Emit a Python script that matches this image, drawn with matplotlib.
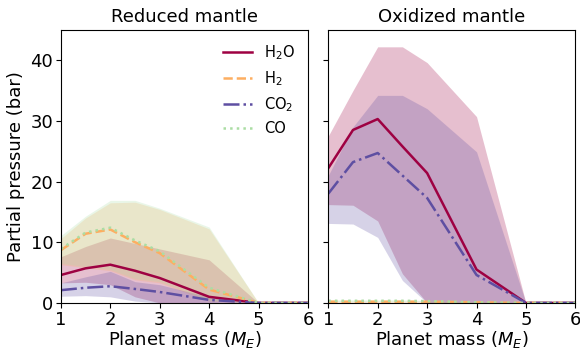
import matplotlib
matplotlib.use("Agg")
import matplotlib.pyplot as plt
import numpy as np

mass = [1, 1.5, 2, 2.5, 3, 4, 5, 6]

# reduced mantle: median, lower and upper bounds (bar)
red_h2o = [4.6, 5.7, 6.3, 5.3, 4.1, 1.0, 0.0, 0.0]
red_h2o_lo = [3.3, 3.4, 3.0, 1.0, 0.0, 0.0, 0.0, 0.0]
red_h2o_hi = [7.6, 9.3, 10.7, 9.8, 8.9, 7.1, 0.0, 0.0]
red_h2 = [8.7, 11.4, 12.1, 10.0, 8.2, 2.2, 0.0, 0.0]
red_h2_lo = [6.3, 5.8, 5.3, 3.8, 3.3, 0.3, 0.0, 0.0]
red_h2_hi = [10.6, 14.0, 16.5, 16.6, 15.4, 12.2, 0.0, 0.0]
red_co2 = [2.1, 2.5, 2.75, 2.3, 1.8, 0.5, 0.0, 0.0]
red_co2_lo = [1.1, 1.2, 1.0, 0.3, 0.0, 0.0, 0.0, 0.0]
red_co2_hi = [3.3, 4.3, 5.2, 3.5, 3.0, 1.0, 0.0, 0.0]
red_co = [8.9, 11.6, 12.4, 10.3, 8.5, 2.5, 0.0, 0.0]
red_co_lo = [6.5, 6.0, 5.5, 4.0, 3.5, 0.4, 0.0, 0.0]
red_co_hi = [11.1, 14.3, 16.9, 16.9, 15.6, 12.5, 0.0, 0.0]

# oxidized mantle
ox_h2o = [22.2, 28.5, 30.3, 25.8, 21.4, 5.5, 0.0, 0.0]
ox_h2o_lo = [16.2, 16.1, 13.5, 4.8, 0.0, 0.0, 0.0, 0.0]
ox_h2o_hi = [27.5, 35.0, 42.2, 42.2, 39.6, 30.7, 0.0, 0.0]
ox_h2 = [0.2, 0.2, 0.2, 0.2, 0.2, 0.1, 0.0, 0.0]
ox_h2_lo = [0.1, 0.1, 0.1, 0.1, 0.1, 0.0, 0.0, 0.0]
ox_h2_hi = [0.3, 0.3, 0.3, 0.3, 0.3, 0.2, 0.0, 0.0]
ox_co2 = [18.0, 23.2, 24.7, 21.0, 17.3, 4.6, 0.0, 0.0]
ox_co2_lo = [13.1, 13.0, 10.8, 3.7, 0.0, 0.0, 0.0, 0.0]
ox_co2_hi = [21.0, 29.0, 34.2, 34.2, 32.0, 24.9, 0.0, 0.0]
ox_co = [0.35, 0.35, 0.35, 0.35, 0.3, 0.1, 0.0, 0.0]
ox_co_lo = [0.2, 0.2, 0.2, 0.2, 0.2, 0.0, 0.0, 0.0]
ox_co_hi = [0.5, 0.5, 0.5, 0.5, 0.4, 0.2, 0.0, 0.0]

species = [r"H$_2$O", r"H$_2$", r"CO$_2$", "CO"]
colors = ["#9e0142", "#fdae61", "#5e4fa2", "#abdda4"]
styles = ["-", "--", "-.", ":"]

reduced = [(red_h2o, red_h2o_lo, red_h2o_hi), (red_h2, red_h2_lo, red_h2_hi),
           (red_co2, red_co2_lo, red_co2_hi), (red_co, red_co_lo, red_co_hi)]
oxidized = [(ox_h2o, ox_h2o_lo, ox_h2o_hi), (ox_h2, ox_h2_lo, ox_h2_hi),
            (ox_co2, ox_co2_lo, ox_co2_hi), (ox_co, ox_co_lo, ox_co_hi)]

fig = plt.figure(figsize=(5.8, 3.51), dpi=100)
ax1 = fig.add_axes([0.105, 0.137, 0.426, 0.778])
ax2 = fig.add_axes([0.566, 0.137, 0.426, 0.778], sharey=ax1)

for ax, data, title in [(ax1, reduced, "Reduced mantle"), (ax2, oxidized, "Oxidized mantle")]:
    for (med, lo, hi), lab, c, ls in zip(data, species, colors, styles):
        ax.fill_between(mass, lo, hi, color=c, alpha=0.25, lw=0)
        ax.plot(mass, med, color=c, ls=ls, lw=1.8, label=lab)
    ax.set_xlim(1, 6)
    ax.set_ylim(0, 45)
    ax.set_xticks([1, 2, 3, 4, 5, 6])
    ax.set_yticks([0, 10, 20, 30, 40])
    ax.set_title(title, fontsize=13)
    ax.set_xlabel(r"Planet mass ($M_E$)", fontsize=13, labelpad=0)
    ax.tick_params(labelsize=13, pad=2)

ax1.set_ylabel("Partial pressure (bar)", fontsize=13)
ax2.tick_params(labelleft=False)
ax1.legend(loc="upper right", frameon=False, fontsize=10.5)

fig.savefig("out.png", dpi=100)
